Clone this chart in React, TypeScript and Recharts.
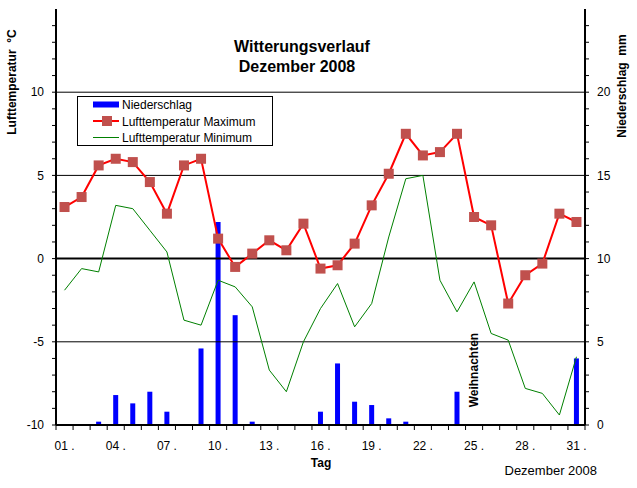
import React from "react";
import {
  ComposedChart,
  Bar,
  Line,
  XAxis,
  YAxis,
  ReferenceLine,
  ReferenceDot,
  Legend,
} from "recharts";

const FONT = "'Liberation Sans', Arial, sans-serif";

const days = [1, 2, 3, 4, 5, 6, 7, 8, 9, 10, 11, 12, 13, 14, 15, 16, 17, 18, 19, 20, 21, 22, 23, 24, 25, 26, 27, 28, 29, 30, 31];
const niederschlag = [0, 0, 0.2, 1.8, 1.3, 2.0, 0.8, 0, 4.6, 12.2, 6.6, 0.2, 0, 0, 0, 0.8, 3.7, 1.4, 1.2, 0.4, 0.2, 0, 0, 2.0, 0, 0, 0, 0, 0, 0, 4.0];
const tempMax = [3.1, 3.7, 5.6, 6.0, 5.8, 4.6, 2.7, 5.6, 6.0, 1.2, -0.5, 0.3, 1.1, 0.5, 2.1, -0.6, -0.4, 0.9, 3.2, 5.1, 7.5, 6.2, 6.4, 7.5, 2.5, 2.0, -2.7, -1.0, -0.3, 2.7, 2.2];
const tempMin = [-1.9, -0.6, -0.8, 3.2, 3.0, 1.7, 0.4, -3.7, -4.0, -1.3, -1.7, -2.9, -6.7, -8.0, -5.0, -3.0, -1.5, -4.1, -2.7, 1.3, 4.8, 5.0, -1.3, -3.2, -1.4, -4.5, -4.9, -7.8, -8.1, -9.4, -5.9];

const labelDays = [1, 4, 7, 10, 13, 16, 19, 22, 25, 28, 31];
const leftTicks = [-10, -9, -8, -7, -6, -5, -4, -3, -2, -1, 0, 1, 2, 3, 4, 5, 6, 7, 8, 9, 10, 11, 12, 13, 14];
const rightTicks = [0, 1, 2, 3, 4, 5, 6, 7, 8, 9, 10, 11, 12, 13, 14, 15, 16, 17, 18, 19, 20, 21, 22, 23, 24];
const gridLines = [10, 5, -5];
const legendOrder = ["rain", "max", "min"];

const data = days.map((d, i) => ({
  day: d,
  rain: niederschlag[i],
  max: tempMax[i],
  min: tempMin[i],
}));

// tick marks sit between the days, labels in the middle of a day
const xTicks = [...days.map((d) => d - 0.5), days.length + 0.5, ...labelDays];

const XTick = (props: any) => {
  const { x, y, payload } = props;
  const v = payload.value;
  if (Number.isInteger(v)) {
    return (
      <text x={x} y={y + 20} textAnchor="middle" fontSize={12} fontFamily={FONT} fill="#000">
        {String(v).padStart(2, "0") + " ."}
      </text>
    );
  }
  return <line x1={x} x2={x} y1={y - 5} y2={y} stroke="#000" strokeWidth={1} />;
};

const SquareDot = (props: any) => {
  const { cx, cy, index } = props;
  if (cx == null || cy == null) return <g key={`sq-${index}`} />;
  return <rect key={`sq-${index}`} x={cx - 5} y={cy - 5} width={10} height={10} fill="#C0504D" />;
};

const renderLegend = (props: any) => {
  const items = [...(props.payload || [])].sort(
    (a: any, b: any) => legendOrder.indexOf(a.dataKey) - legendOrder.indexOf(b.dataKey)
  );
  return (
    <svg width={196} height={50} style={{ display: "block" }}>
      <rect x={0.5} y={0.5} width={195} height={49} fill="#fff" stroke="#000" />
      {items.map((item: any, i: number) => {
        const cy = 8.5 + i * 16.5;
        let icon = null;
        if (item.dataKey === "rain") {
          icon = <rect x={16} y={cy - 3} width={26} height={6} fill="#0000FF" />;
        } else if (item.dataKey === "max") {
          icon = (
            <g>
              <line x1={16} x2={42} y1={cy} y2={cy} stroke="#FF0000" strokeWidth={2} />
              <rect x={25} y={cy - 5} width={10} height={10} fill="#C0504D" />
            </g>
          );
        } else {
          icon = <line x1={16} x2={42} y1={cy} y2={cy} stroke="#008000" strokeWidth={1} />;
        }
        return (
          <g key={`lg-${i}`}>
            {icon}
            <text x={45} y={cy + 4.5} fontSize={12} fontFamily={FONT} fill="#000">
              {item.value}
            </text>
          </g>
        );
      })}
    </svg>
  );
};

const WeihnachtenLabel = (props: any) => {
  const { viewBox } = props;
  const cx = viewBox.x + (viewBox.width || 0) / 2;
  const cy = viewBox.y + (viewBox.height || 0) / 2;
  return (
    <text
      x={cx}
      y={cy}
      transform={`rotate(-90 ${cx} ${cy})`}
      textAnchor="middle"
      dominantBaseline="central"
      fontSize={12}
      fontWeight="bold"
      fontFamily={FONT}
      fill="#000"
    >
      Weihnachten
    </text>
  );
};

export default function App() {
  return (
    <div style={{ position: "absolute", left: 0, top: 0, width: 637, height: 488, background: "#fff" }}>
      <ComposedChart
        width={637}
        height={488}
        data={data}
        margin={{ top: 9, right: 0, bottom: 33, left: 0 }}
      >
        <XAxis
          dataKey="day"
          type="number"
          domain={[0.5, 31.5]}
          ticks={xTicks}
          interval={0}
          height={30}
          tickSize={5}
          tickMargin={0}
          tickLine={false}
          axisLine={{ stroke: "#000", strokeWidth: 2 }}
          tick={<XTick />}
          allowDataOverflow
        />
        <YAxis
          yAxisId="left"
          domain={[-10, 15]}
          ticks={leftTicks}
          interval={0}
          width={56}
          tickSize={4}
          tickMargin={8}
          tickFormatter={(v: number) => (v % 5 === 0 ? String(v) : "")}
          axisLine={{ stroke: "#000", strokeWidth: 2 }}
          tickLine={{ stroke: "#000" }}
          tick={{ fill: "#000", fontSize: 12, fontFamily: FONT }}
          allowDataOverflow
        />
        <YAxis
          yAxisId="right"
          orientation="right"
          domain={[0, 25]}
          ticks={rightTicks}
          interval={0}
          width={52}
          tickSize={4}
          tickMargin={8}
          tickFormatter={(v: number) => (v % 5 === 0 ? String(v) : "")}
          axisLine={{ stroke: "#000", strokeWidth: 2 }}
          tickLine={{ stroke: "#000" }}
          tick={{ fill: "#000", fontSize: 12, fontFamily: FONT, textAnchor: "start" }}
          allowDataOverflow
        />
        {gridLines.map((g) => (
          <ReferenceLine key={`g${g}`} yAxisId="left" y={g} stroke="#000" strokeWidth={1} />
        ))}
        <ReferenceLine yAxisId="left" y={0} stroke="#000" strokeWidth={2} />
        <Legend
          layout="vertical"
          align="center"
          verticalAlign="middle"
          wrapperStyle={{ left: 77, top: 96, width: 196, height: 50 }}
          content={renderLegend}
        />
        <Bar
          yAxisId="right"
          dataKey="rain"
          name="Niederschlag"
          fill="#0000FF"
          barSize={5}
          isAnimationActive={false}
        />
        <Line
          yAxisId="left"
          dataKey="max"
          name="Lufttemperatur Maximum"
          stroke="#FF0000"
          strokeWidth={2}
          dot={SquareDot}
          activeDot={false}
          type="linear"
          isAnimationActive={false}
        />
        <Line
          yAxisId="left"
          dataKey="min"
          name="Lufttemperatur Minimum"
          stroke="#008000"
          strokeWidth={1}
          dot={false}
          activeDot={false}
          type="linear"
          isAnimationActive={false}
        />
        <ReferenceDot
          yAxisId="left"
          x={25}
          y={-6.7}
          r={0}
          fill="none"
          stroke="none"
          label={<WeihnachtenLabel />}
        />
      </ComposedChart>
      <svg
        width={637}
        height={488}
        style={{ position: "absolute", left: 0, top: 0, pointerEvents: "none" }}
      >
        <g fontFamily={FONT} fill="#000">
          <text x={302} y={52} textAnchor="middle" fontSize={16} fontWeight="bold">
            Witterungsverlauf
          </text>
          <text x={297} y={72} textAnchor="middle" fontSize={16} fontWeight="bold">
            Dezember 2008
          </text>
          <text
            x={16}
            y={82}
            transform="rotate(-90 16 82)"
            textAnchor="middle"
            fontSize={12}
            fontWeight="bold"
            style={{ whiteSpace: "pre" }}
          >
            {"Lufttemperatur  °C"}
          </text>
          <text
            x={626}
            y={86}
            transform="rotate(-90 626 86)"
            textAnchor="middle"
            fontSize={12}
            fontWeight="bold"
            style={{ whiteSpace: "pre" }}
          >
            {"Niederschlag  mm"}
          </text>
          <text x={321} y={467} textAnchor="middle" fontSize={12} fontWeight="bold">
            Tag
          </text>
          <text x={597} y={475} textAnchor="end" fontSize={13}>
            Dezember 2008
          </text>
        </g>
      </svg>
    </div>
  );
}
